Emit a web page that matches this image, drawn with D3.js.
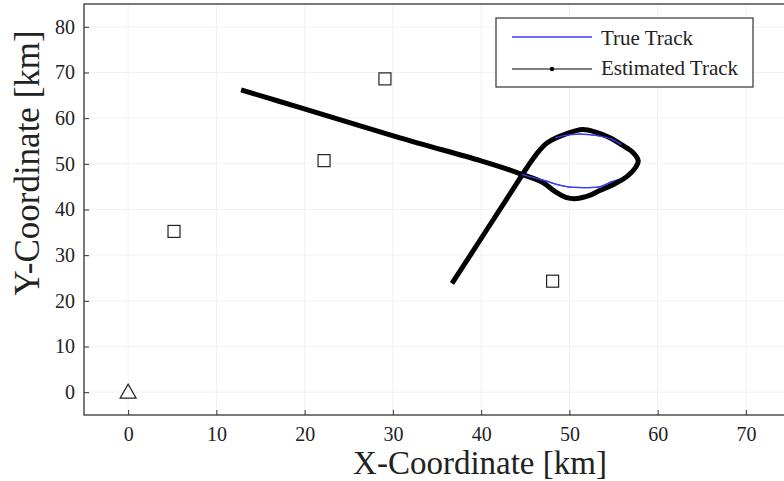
<!DOCTYPE html>
<html>
<head>
<meta charset="utf-8">
<script src="https://cdn.jsdelivr.net/npm/d3@7"></script>
<style>
  body { margin: 0; background: #fff; }
  svg { display: block; font-family: "Liberation Serif", "DejaVu Serif", serif; }
</style>
</head>
<body>
<div class="track-chart"></div>
<script>
// values, in km
const xTicks = [0, 10, 20, 30, 40, 50, 60, 70]
const yTicks = [0, 10, 20, 30, 40, 50, 60, 70, 80]
const sensors = [[5.2, 35.2], [22.2, 50.7], [29.1, 68.6], [48.1, 24.3]]
const origin = [[0, 0]]
const estTrack = [
  [12.8, 66.2], [19.5, 62.3], [30.8, 55.7], [39.9, 50.7], [42.7, 49.0],
  [44.6, 47.7], [47.0, 45.9], [48.4, 43.9], [49.7, 42.6], [50.8, 42.4],
  [52.3, 43.1], [53.5, 44.2], [55.2, 45.7], [56.5, 47.2], [57.5, 49.2],
  [57.8, 50.7], [57.2, 52.5], [55.9, 54.2], [54.6, 55.7], [52.9, 57.0],
  [51.5, 57.5], [49.7, 56.6], [47.5, 54.6], [46.3, 52.2], [45.2, 49.2],
  [43.8, 45.0], [36.7, 23.8]
]
const trueTrack = [
  [12.8, 66.2], [19.5, 62.3], [30.8, 55.7], [39.9, 50.7], [42.7, 49.0],
  [44.6, 47.7], [47.2, 46.3], [49.7, 45.0], [51.8, 44.8], [53.5, 45.0],
  [54.8, 46.1], [56.5, 47.2], [57.5, 49.2], [57.8, 50.7], [57.2, 52.5],
  [55.9, 54.2], [54.6, 55.5], [52.3, 56.4], [50.1, 56.4], [48.4, 55.7],
  [47.5, 54.6], [46.3, 52.2], [45.2, 49.2], [43.8, 45.0], [36.7, 23.8]
]
const legendNames = ['True Track', 'Estimated Track']

class TrackChart{
    constructor(){
        this.width = 784
        this.height = 481
        this.svg = d3.select('.track-chart')
            .append('svg')
            .attr('width', this.width)
            .attr('height', this.height)
        this.xScale = d3.scaleLinear().domain([-5, 75]).range([84, 790])
        this.yScale = d3.scaleLinear().domain([-5, 85]).range([415, 4])
        this.draw()
    }
    draw(){
        const { svg, xScale, yScale } = this
        const [x0, x1] = xScale.range()
        const [y0, y1] = yScale.range()

        // faint grid
        const grid = svg.append('g')
        grid.selectAll('.gx').data(xTicks).enter().append('line')
            .attr('x1', d=>xScale(d)).attr('x2', d=>xScale(d))
            .attr('y1', y0).attr('y2', y1)
            .attr('stroke', '#f1f1f1')
        grid.selectAll('.gy').data(yTicks).enter().append('line')
            .attr('x1', x0).attr('x2', x1)
            .attr('y1', d=>yScale(d)).attr('y2', d=>yScale(d))
            .attr('stroke', '#f1f1f1')

        // axes, ticks pointing inward
        const xAxis = svg.append('g')
            .attr('transform', `translate(0, ${y0})`)
            .call(d3.axisBottom(xScale).tickValues(xTicks).tickSizeInner(-5).tickSizeOuter(0).tickPadding(12))
        const yAxis = svg.append('g')
            .attr('transform', `translate(${x0}, 0)`)
            .call(d3.axisLeft(yScale).tickValues(yTicks).tickSizeInner(-5).tickSizeOuter(0).tickPadding(9))
        ;[xAxis, yAxis].forEach(a=>{
            a.selectAll('.domain').remove()
            a.selectAll('line').attr('stroke', '#333')
            a.selectAll('text')
                .style('font-family', '"Liberation Serif", serif')
                .style('font-size', '20px')
                .attr('fill', '#222')
        })

        // box
        svg.append('rect')
            .attr('x', x0).attr('y', y1)
            .attr('width', x1 - x0).attr('height', y0 - y1)
            .attr('fill', 'none').attr('stroke', '#333').attr('stroke-width', 1.3)

        const line = d3.line().x(d=>xScale(d[0])).y(d=>yScale(d[1])).curve(d3.curveCatmullRom.alpha(0.5))

        svg.append('path').datum(trueTrack)
            .attr('d', line).attr('fill', 'none')
            .attr('stroke', '#3b3bff').attr('stroke-width', 1.3)
        svg.append('path').datum(estTrack)
            .attr('d', line).attr('fill', 'none')
            .attr('stroke', '#000').attr('stroke-width', 5)
            .attr('stroke-linejoin', 'round')
        // the true track shows through where it leaves the estimate
        svg.append('path').datum(trueTrack.slice(5, 11))
            .attr('d', line).attr('fill', 'none')
            .attr('stroke', '#3b3bff').attr('stroke-width', 1.3)
        svg.append('path').datum(trueTrack.slice(15, 20))
            .attr('d', line).attr('fill', 'none')
            .attr('stroke', '#3b3bff').attr('stroke-width', 1.3)

        // sensors
        svg.selectAll('.sensor').data(sensors).enter().append('rect')
            .attr('x', d=>xScale(d[0]) - 6).attr('y', d=>yScale(d[1]) - 6)
            .attr('width', 12).attr('height', 12)
            .attr('fill', 'none').attr('stroke', '#222').attr('stroke-width', 1.2)
        svg.selectAll('.origin').data(origin).enter().append('path')
            .attr('transform', d=>`translate(${xScale(d[0])}, ${yScale(d[1])})`)
            .attr('d', 'M0,-8L8,6L-8,6Z')
            .attr('fill', 'none').attr('stroke', '#222').attr('stroke-width', 1.2)

        // legend
        const lg = svg.append('g')
        lg.append('rect')
            .attr('x', 496).attr('y', 18).attr('width', 257).attr('height', 69)
            .attr('fill', '#fff').attr('stroke', '#333').attr('stroke-width', 1.2)
        const items = lg.selectAll('.item').data(legendNames).enter().append('g')
            .attr('transform', (d,i)=>`translate(0, ${37 + i*32})`)
        items.append('line')
            .attr('x1', 512).attr('x2', 592).attr('y1', 0).attr('y2', 0)
            .attr('stroke', (d,i)=>i === 0 ? '#3b3bff' : '#000')
            .attr('stroke-width', (d,i)=>i === 0 ? 1.3 : 1)
        items.filter((d,i)=>i === 1).append('circle')
            .attr('cx', 552).attr('cy', 0).attr('r', 2.2).attr('fill', '#000')
        items.append('text')
            .attr('x', 601).attr('y', (d,i)=>i === 0 ? 8 : 6)
            .style('font-size', '21px').attr('fill', '#222')
            .text(d=>d)

        // axis titles
        svg.append('text')
            .attr('x', 480).attr('y', 474)
            .attr('text-anchor', 'middle')
            .style('font-size', '33px').attr('fill', '#222')
            .text('X-Coordinate [km]')
        svg.append('text')
            .attr('transform', 'translate(39, 163) rotate(-90)')
            .attr('text-anchor', 'middle')
            .style('font-size', '35px').attr('fill', '#222')
            .text('Y-Coordinate [km]')
    }
}

new TrackChart()
</script>
</body>
</html>
